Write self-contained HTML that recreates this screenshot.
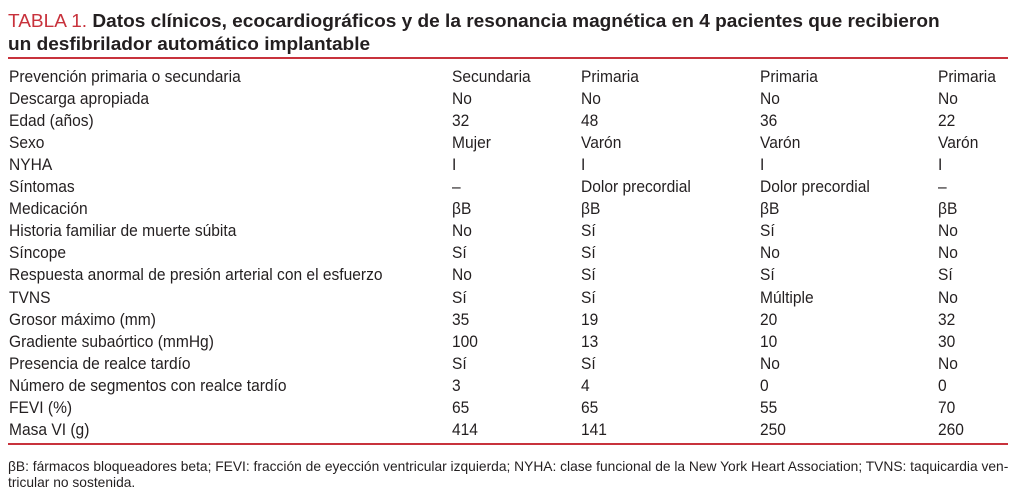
<!DOCTYPE html>
<html><head><meta charset="utf-8"><style>
body{margin:0;width:1024px;height:498px;background:#fff;overflow:hidden;position:relative;font-family:"Liberation Sans",sans-serif;color:#231f20}
.t{position:absolute;white-space:nowrap;left:8px;font-size:18.5px;font-weight:bold;line-height:22px;transform:scaleX(1.03);transform-origin:left center}
.r{position:absolute;left:0;width:1024px;height:22px}
.c{position:absolute;top:0;font-size:17px;line-height:22px;white-space:nowrap;transform:scaleX(0.915);transform-origin:left center}
.line{position:absolute;left:8px;width:1000px;height:2px;background:#c8323c}
.f{position:absolute;left:8px;font-size:14px;line-height:16px;white-space:nowrap;transform:scaleX(0.985);transform-origin:left center}
</style></head><body>
<div class="t" style="top:10px"><span style="color:#c8323c;font-weight:normal">TABLA 1.</span> Datos clínicos, ecocardiográficos y de la resonancia magnética en 4 pacientes que recibieron</div>
<div class="t" style="top:33px">un desfibrilador automático implantable</div>
<div class="line" style="top:57px"></div>
<div id="rows"></div>
<div class="line" style="top:443px"></div>
<div class="f" style="top:458px">βB: fármacos bloqueadores beta; FEVI: fracción de eyección ventricular izquierda; NYHA: clase funcional de la New York Heart Association; TVNS: taquicardia ven-</div>
<div class="f" style="top:474px">tricular no sostenida.</div>
<script>
const rows=[
["Prevención primaria o secundaria","Secundaria","Primaria","Primaria","Primaria"],
["Descarga apropiada","No","No","No","No"],
["Edad (años)","32","48","36","22"],
["Sexo","Mujer","Varón","Varón","Varón"],
["NYHA","I","I","I","I"],
["Síntomas","–","Dolor precordial","Dolor precordial","–"],
["Medicación","βB","βB","βB","βB"],
["Historia familiar de muerte súbita","No","Sí","Sí","No"],
["Síncope","Sí","Sí","No","No"],
["Respuesta anormal de presión arterial con el esfuerzo","No","Sí","Sí","Sí"],
["TVNS","Sí","Sí","Múltiple","No"],
["Grosor máximo (mm)","35","19","20","32"],
["Gradiente subaórtico (mmHg)","100","13","10","30"],
["Presencia de realce tardío","Sí","Sí","No","No"],
["Número de segmentos con realce tardío","3","4","0","0"],
["FEVI (%)","65","65","55","70"],
["Masa VI (g)","414","141","250","260"]];
const xs=[9,452,581,760,938];
const host=document.getElementById('rows');
rows.forEach((r,i)=>{
 const d=document.createElement('div');d.className='r';d.style.top=(65.5+i*22.1)+'px';
 
 
 r.forEach((v,j)=>{const s=document.createElement('div');s.className='c';s.style.left=xs[j]+'px';s.textContent=v;
 
 
 d.appendChild(s);});
 host.appendChild(d);});
</script>
</body></html>
